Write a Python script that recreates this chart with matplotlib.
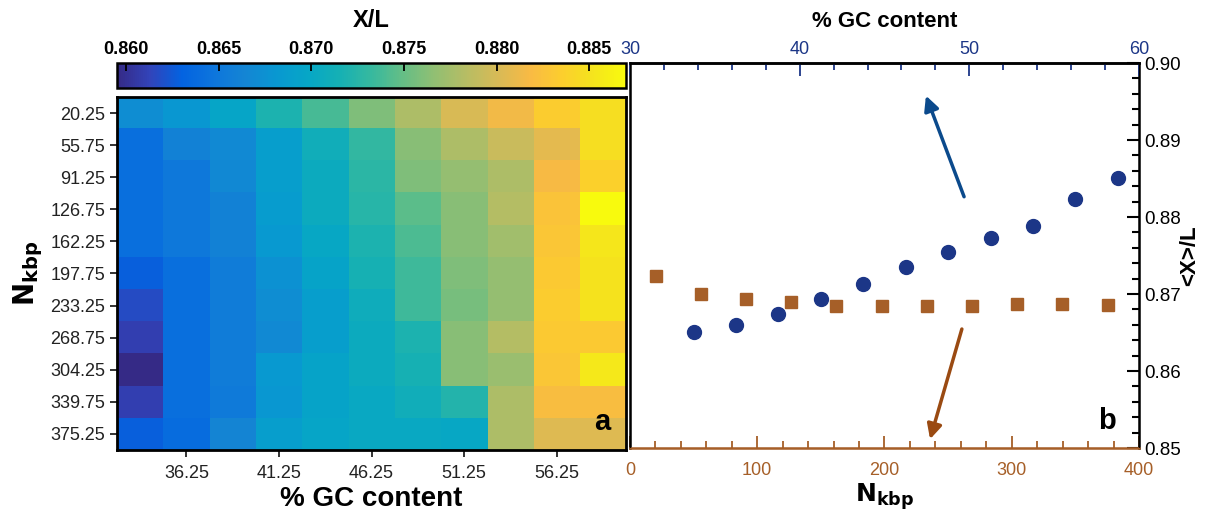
import numpy as np
import matplotlib
matplotlib.use('Agg')
import matplotlib.pyplot as plt
from matplotlib.colors import LinearSegmentedColormap

plt.rcParams['font.family'] = ['Liberation Sans', 'DejaVu Sans']

# heatmap axes
gc_bins = [33.75, 36.25, 38.75, 41.25, 43.75, 46.25, 48.75, 51.25, 53.75, 56.25, 58.75]
n_bins = [20.25, 55.75, 91.25, 126.75, 162.25, 197.75, 233.25, 268.75, 304.25, 339.75, 375.25]

# X/L per cell, rows = n_bins (top to bottom), cols = gc_bins
xl_grid = [
    [0.8672, 0.8680, 0.8697, 0.8719, 0.8738, 0.8760, 0.8779, 0.8801, 0.8815, 0.8834, 0.8848],
    [0.8642, 0.8661, 0.8669, 0.8689, 0.8711, 0.8730, 0.8763, 0.8779, 0.8793, 0.8807, 0.8848],
    [0.8642, 0.8650, 0.8667, 0.8689, 0.8705, 0.8727, 0.8760, 0.8768, 0.8779, 0.8818, 0.8837],
    [0.8642, 0.8650, 0.8661, 0.8686, 0.8705, 0.8724, 0.8746, 0.8763, 0.8782, 0.8826, 0.8870],
    [0.8642, 0.8650, 0.8661, 0.8683, 0.8700, 0.8719, 0.8741, 0.8763, 0.8774, 0.8829, 0.8854],
    [0.8628, 0.8642, 0.8656, 0.8675, 0.8694, 0.8716, 0.8735, 0.8760, 0.8768, 0.8832, 0.8851],
    [0.8617, 0.8642, 0.8656, 0.8672, 0.8689, 0.8708, 0.8735, 0.8757, 0.8768, 0.8834, 0.8851],
    [0.8609, 0.8642, 0.8656, 0.8669, 0.8689, 0.8705, 0.8719, 0.8763, 0.8782, 0.8832, 0.8832],
    [0.8595, 0.8642, 0.8656, 0.8683, 0.8694, 0.8705, 0.8716, 0.8763, 0.8771, 0.8829, 0.8856],
    [0.8609, 0.8642, 0.8653, 0.8680, 0.8694, 0.8702, 0.8711, 0.8722, 0.8779, 0.8821, 0.8821],
    [0.8628, 0.8639, 0.8664, 0.8689, 0.8697, 0.8702, 0.8702, 0.8700, 0.8779, 0.8804, 0.8804],
]

# panel b
gc_mean = [0.8651, 0.8660, 0.8674, 0.8694, 0.8713, 0.8735, 0.8755, 0.8773, 0.8788, 0.8824, 0.8851]
n_mean = [0.8723, 0.8700, 0.8693, 0.8689, 0.8685, 0.8684, 0.8684, 0.8685, 0.8687, 0.8687, 0.8686]

# parula-like map
parula_pts = [
    (0.2081, 0.1663, 0.5292), (0.1959, 0.2645, 0.7279), (0.0117, 0.3875, 0.8820),
    (0.0498, 0.4586, 0.8641), (0.0793, 0.5200, 0.8312), (0.0343, 0.5966, 0.8199),
    (0.0228, 0.6535, 0.7768), (0.0843, 0.6928, 0.7062), (0.2178, 0.7250, 0.6193),
    (0.3953, 0.7459, 0.5244), (0.5709, 0.7485, 0.4494), (0.7184, 0.7411, 0.3905),
    (0.8507, 0.7299, 0.3360), (0.9739, 0.7314, 0.2666), (0.9880, 0.8066, 0.1794),
    (0.9589, 0.8949, 0.1132), (0.9763, 0.9831, 0.0538),
]
parula = LinearSegmentedColormap.from_list('parula', parula_pts)

navy = '#1c3687'
brown = '#a65f28'

fig = plt.figure(figsize=(12.08, 5.18), dpi=100)

# ---- panel a ----
ax1 = fig.add_axes([0.0969, 0.1313, 0.4214, 0.6815])
im = ax1.imshow(np.array(xl_grid), cmap=parula, vmin=0.8595, vmax=0.887, aspect='auto',
                interpolation='nearest')
ax1.set_yticks(range(len(n_bins)))
ax1.set_yticklabels([f'{v:.2f}' for v in n_bins])
ax1.set_xticks(range(1, len(gc_bins), 2))
ax1.set_xticklabels([f'{gc_bins[i]:.2f}' for i in range(1, len(gc_bins), 2)])
ax1.tick_params(labelsize=13, length=5, width=1.3, direction='out', colors='#222222')
ax1.tick_params(axis='x', pad=6)
ax1.set_xlabel('% GC content', fontsize=20, fontweight='bold', labelpad=3)
ax1.set_ylabel(r'$\mathbf{N_{kbp}}$', fontsize=20, labelpad=4)
for s in ax1.spines.values():
    s.set_linewidth(2)
ax1.text(0.97, 0.04, 'a', transform=ax1.transAxes, ha='right', va='bottom',
         fontsize=21, fontweight='bold')

cax = fig.add_axes([0.0969, 0.830, 0.4214, 0.0483])
cb = fig.colorbar(im, cax=cax, orientation='horizontal')
cb.set_ticks([0.860, 0.865, 0.870, 0.875, 0.880, 0.885])
cb.ax.xaxis.set_ticks_position('top')
cb.ax.xaxis.set_label_position('top')
cb.ax.tick_params(direction='in', length=6, width=1.3, labelsize=13)
cb.ax.set_xticklabels(['0.860', '0.865', '0.870', '0.875', '0.880', '0.885'], fontweight='bold')
cb.set_label('X/L', fontsize=17, fontweight='bold', labelpad=10)
cb.outline.set_linewidth(1.8)

# ---- panel b ----
ax2 = fig.add_axes([0.5215, 0.1351, 0.4214, 0.7432])
ax2.plot(n_bins, n_mean, 's', color=brown, markersize=9, zorder=3)
ax2.set_xlim(0, 400)
ax2.set_ylim(0.85, 0.90)
ax2.yaxis.tick_right()
ax2.yaxis.set_label_position('right')
ax2.set_yticks(np.arange(0.85, 0.9001, 0.01))
ax2.set_yticks(np.arange(0.85, 0.9001, 0.002), minor=True)
ax2.set_yticklabels(['0.85', '0.86', '0.87', '0.88', '0.89', '0.90'])
ax2.set_xticks(np.arange(0, 401, 100))
ax2.set_xticks(np.arange(0, 401, 20), minor=True)
ax2.tick_params(axis='y', which='major', direction='in', length=9, width=1.5, labelsize=13.5)
ax2.tick_params(axis='y', which='minor', direction='in', length=5, width=1.5)
ax2.tick_params(axis='x', which='major', direction='in', length=9, width=1.3,
                colors=brown, labelsize=13, pad=10)
ax2.tick_params(axis='x', which='minor', direction='in', length=5, width=1.3, colors=brown)
ax2.set_xlabel(r'$\mathbf{N_{kbp}}$', fontsize=18, labelpad=2)
ax2.set_ylabel('<X>/L', fontsize=16, fontweight='bold', rotation=90, va='center')
ax2.yaxis.set_label_coords(1.10, 0.5)
for s in ax2.spines.values():
    s.set_linewidth(1.8)
ax2.spines['bottom'].set_color(brown)

ax3 = ax2.twiny()
ax3.plot(gc_bins, gc_mean, 'o', color=navy, markersize=10, zorder=3)
ax3.set_xlim(30, 60)
ax3.set_xticks(np.arange(30, 61, 10))
ax3.set_xticks(np.arange(30, 61, 2), minor=True)
ax3.tick_params(axis='x', which='major', direction='in', length=9, width=1.3,
                colors=navy, labelsize=13)
ax3.tick_params(axis='x', which='minor', direction='in', length=5, width=1.3, colors=navy)
ax3.set_xlabel('% GC content', fontsize=16, fontweight='bold', labelpad=10)
ax3.spines['bottom'].set_color(brown)
ax3.spines['top'].set_linewidth(1.8)

ax2.annotate('', xy=(231.8, 0.8961), xytext=(263.3, 0.8823),
             arrowprops=dict(arrowstyle='-|>', color='#0b4a8c', lw=2.5, mutation_scale=22))
ax2.annotate('', xy=(235.2, 0.8508), xytext=(261.4, 0.8658),
             arrowprops=dict(arrowstyle='-|>', color='#9a4a12', lw=2.5, mutation_scale=22))
ax2.text(0.955, 0.035, 'b', transform=ax2.transAxes, ha='right', va='bottom',
         fontsize=21, fontweight='bold')

fig.savefig('out.png', dpi=100)
